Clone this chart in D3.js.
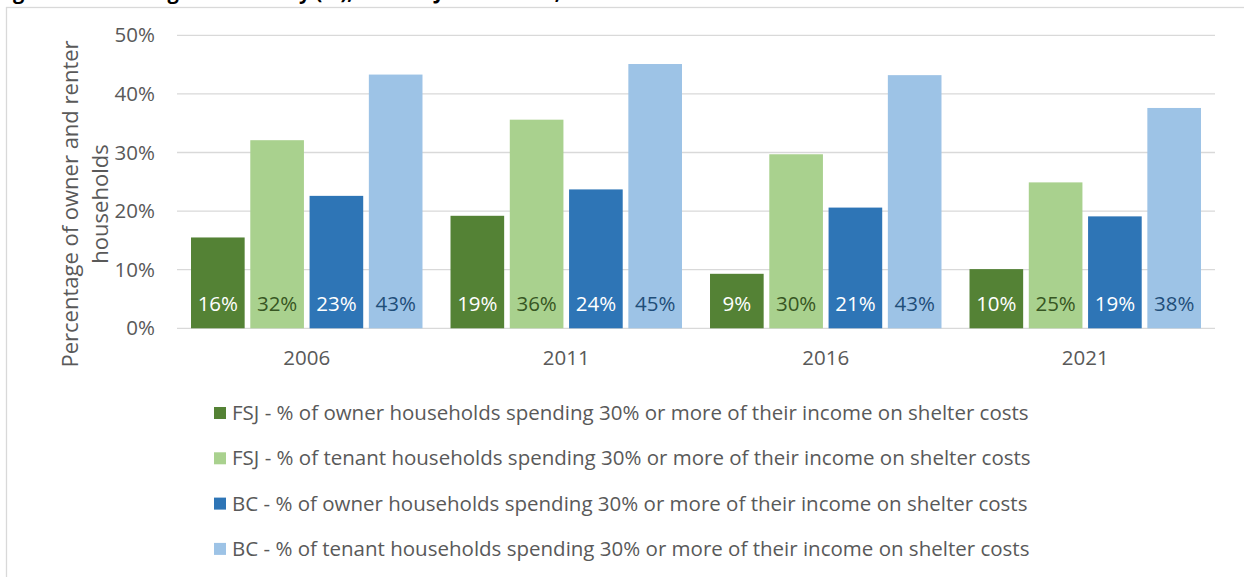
<!DOCTYPE html>
<html>
<head>
<meta charset="utf-8">
<script src="https://cdn.jsdelivr.net/npm/d3@7"></script>
<style>
  body { margin: 0; background: #fff; }
  svg { display: block; font-family: 'Open Sans', 'Noto Sans', sans-serif; }
</style>
</head>
<body>
<div id="container"></div>
<script>
// chart data
const years = ['2006', '2011', '2016', '2021'];
const seriesNames = [
  'FSJ - % of owner households spending 30% or more of their income on shelter costs',
  'FSJ - % of tenant households spending 30% or more of their income on shelter costs',
  'BC - % of owner households spending 30% or more of their income on shelter costs',
  'BC - % of tenant households spending 30% or more of their income on shelter costs'
];
const fsjOwner = [0.155, 0.192, 0.093, 0.101];
const fsjTenant = [0.321, 0.356, 0.297, 0.249];
const bcOwner = [0.226, 0.237, 0.206, 0.191];
const bcTenant = [0.433, 0.451, 0.432, 0.376];
const yTicks = [0, 0.1, 0.2, 0.3, 0.4, 0.5];

const seriesValues = [fsjOwner, fsjTenant, bcOwner, bcTenant];
const fills = ['#548235', '#a9d18e', '#2e75b6', '#9dc3e6'];
const labelColors = ['#ffffff', '#375623', '#ffffff', '#1f4e79'];

const width = 1244, height = 577;
const margin = { top: 35.3, right: 29, bottom: 248.7, left: 177 };
const fontSize = 20.5;

const svg = d3.select('#container').append('svg')
  .attr('width', width)
  .attr('height', height);

// title, mostly cut off at top of the picture
svg.append('text')
  .attr('x', -4)
  .attr('y', -1)
  .attr('font-size', 20)
  .attr('font-weight', 'bold')
  .attr('fill', '#000')
  .text('Figure 13: Housing Affordability (%), Fort St. John and BC, 2006 - 2021');

// chart frame
svg.append('rect')
  .attr('x', 6.5)
  .attr('y', 7.5)
  .attr('width', width)
  .attr('height', height)
  .attr('fill', 'none')
  .attr('stroke', '#d9d9d9')
  .attr('stroke-width', 1.3);

const x0 = d3.scaleBand()
  .domain(years)
  .range([margin.left, width - margin.right])
  .paddingInner(0.108)
  .paddingOuter(0.054);

const x1 = d3.scaleBand()
  .domain(d3.range(seriesValues.length))
  .range([0, x0.bandwidth()])
  .paddingInner(0.095);

const y = d3.scaleLinear()
  .domain([0, 0.5])
  .range([height - margin.bottom, margin.top]);

// gridlines
svg.append('g')
  .selectAll('line')
  .data(yTicks).enter()
  .append('line')
  .attr('x1', margin.left)
  .attr('x2', width - margin.right)
  .attr('y1', d => y(d))
  .attr('y2', d => y(d))
  .attr('stroke', '#d9d9d9')
  .attr('stroke-width', 1.3);

// y axis labels
const yAxis = svg.append('g')
  .attr('transform', `translate(${margin.left - 22},0)`)
  .call(d3.axisLeft(y).tickValues(yTicks).tickFormat(d3.format('.0%')).tickSize(0).tickPadding(0));
yAxis.select('.domain').remove();
yAxis.selectAll('text')
  .attr('font-family', "'Open Sans', sans-serif")
  .attr('font-size', fontSize)
  .attr('fill', '#595959');

// x axis labels
const xAxis = svg.append('g')
  .attr('transform', `translate(0,${y(0) + 22})`)
  .call(d3.axisBottom(x0).tickSize(0).tickPadding(0));
xAxis.select('.domain').remove();
xAxis.selectAll('text')
  .attr('font-family', "'Open Sans', sans-serif")
  .attr('font-size', fontSize)
  .attr('fill', '#595959');

// y axis title
const yTitle = svg.append('text')
  .attr('transform', `translate(83,204) rotate(-90)`)
  .attr('text-anchor', 'middle')
  .attr('font-size', 22)
  .attr('fill', '#595959');
yTitle.append('tspan').attr('x', 0).attr('dy', '-0.25em').text('Percentage of owner and renter');
yTitle.append('tspan').attr('x', 0).attr('dy', '1.4em').text('households');

// bars
const groups = svg.append('g')
  .selectAll('g')
  .data(years).enter()
  .append('g')
  .attr('transform', d => `translate(${x0(d)},0)`);

groups.selectAll('rect')
  .data((d, i) => seriesValues.map((s, k) => ({ k: k, v: s[i] })))
  .enter()
  .append('rect')
  .attr('x', d => x1(d.k))
  .attr('y', d => y(d.v))
  .attr('width', x1.bandwidth())
  .attr('height', d => y(0) - y(d.v))
  .attr('fill', d => fills[d.k]);

groups.selectAll('text')
  .data((d, i) => seriesValues.map((s, k) => ({ k: k, v: s[i] })))
  .enter()
  .append('text')
  .attr('x', d => x1(d.k) + x1.bandwidth() / 2)
  .attr('y', y(0) - 24)
  .attr('dy', '0.35em')
  .attr('text-anchor', 'middle')
  .attr('font-size', fontSize)
  .attr('fill', d => labelColors[d.k])
  .text(d => d3.format('.0%')(d.v));

// legend
const legend = svg.append('g')
  .selectAll('g')
  .data(seriesNames).enter()
  .append('g')
  .attr('transform', (d, i) => `translate(214,${413 + i * 45.3})`);

legend.append('rect')
  .attr('x', 0)
  .attr('y', -6)
  .attr('width', 12)
  .attr('height', 12)
  .attr('fill', (d, i) => fills[i]);

legend.append('text')
  .attr('x', 18)
  .attr('dy', '0.35em')
  .attr('font-size', fontSize)
  .attr('fill', '#595959')
  .text(d => d);
</script>
</body>
</html>
